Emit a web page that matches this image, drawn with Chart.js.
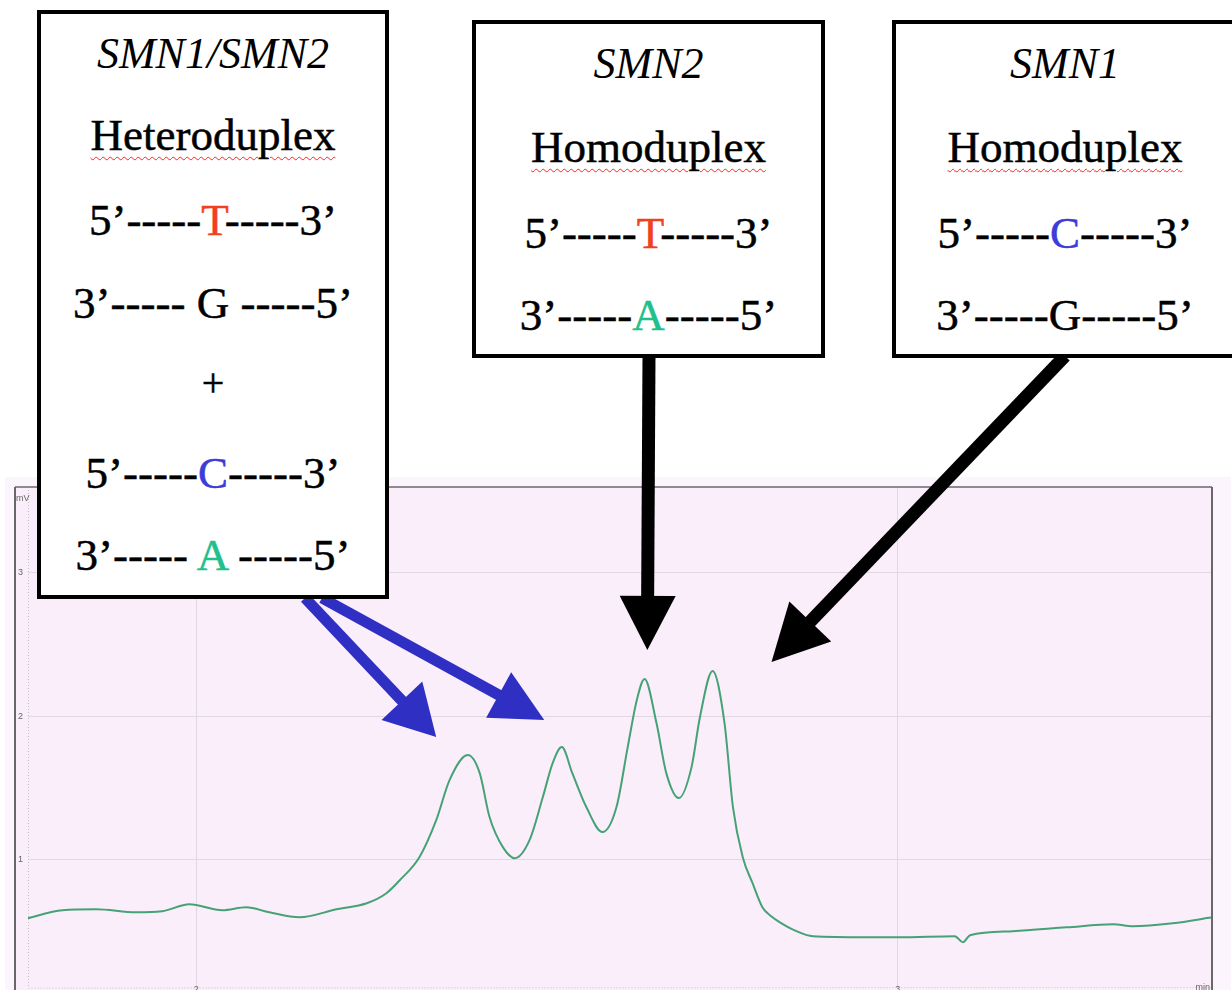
<!DOCTYPE html>
<html>
<head>
<meta charset="utf-8">
<script src="https://cdn.jsdelivr.net/npm/chart.js@4.4.1/dist/chart.umd.min.js"></script>
<style>
  body { margin: 0; background: #fff; }
  #wrap { position: relative; width: 1232px; height: 990px; overflow: hidden; }
  #trace { position: absolute; left: 0; top: 0; }
  .box {
    position: absolute;
    box-sizing: border-box;
    border: 4px solid #000;
    background: #fff;
    font-family: 'Liberation Serif', 'Times New Roman', serif;
    font-size: 45px;
    color: #000;
  }
  .ln {
    position: absolute;
    left: 0; right: 0;
    text-align: center;
    line-height: 50px;
    white-space: pre;
    -webkit-text-stroke: 0.5px;
  }
  .gene { font-style: italic; font-size: 44px; -webkit-text-stroke: 0; }
  .spell {
    text-decoration: underline wavy #f22;
    text-decoration-thickness: 1px;
    text-underline-offset: 6px;
  }
  .T { color: #f0401e; }
  .C { color: #3c3cd8; }
  .A { color: #1ec08c; }
</style>
</head>
<body>
<div id="wrap">
  <canvas id="trace" width="1232" height="990"></canvas>
</div>
<script>
// retention time (min) and detector signal (mV)
const times = [1.759, 1.809, 1.857, 1.914, 1.951, 1.990, 2.037, 2.071, 2.104, 2.147,
  2.200, 2.243, 2.271, 2.290, 2.318, 2.342, 2.361, 2.387, 2.404, 2.418,
  2.437, 2.454, 2.475, 2.494, 2.508, 2.521, 2.536, 2.556, 2.579, 2.599,
  2.615, 2.628, 2.639, 2.656, 2.670, 2.688, 2.706, 2.718, 2.736, 2.753,
  2.765, 2.779, 2.793, 2.807, 2.820, 2.832, 2.853, 2.879, 2.956, 3.003,
  3.081, 3.093, 3.103, 3.164, 3.241, 3.307, 3.335, 3.392, 3.448];
const signal = [0.587, 0.643, 0.650, 0.629, 0.636, 0.685, 0.643, 0.664, 0.629, 0.594,
  0.650, 0.692, 0.762, 0.853, 1.014, 1.273, 1.552, 1.727, 1.601, 1.294,
  1.084, 1.007, 1.133, 1.434, 1.671, 1.783, 1.601, 1.364, 1.189, 1.364,
  1.783, 2.112, 2.259, 1.951, 1.601, 1.427, 1.643, 1.993, 2.315, 1.951,
  1.364, 1.014, 0.832, 0.664, 0.600, 0.559, 0.503, 0.462, 0.455, 0.455,
  0.462, 0.420, 0.469, 0.497, 0.524, 0.545, 0.531, 0.552, 0.594];
const timeTicks = [2, 3];
const mvTicks = [1, 2, 3];

// arrow tips sit just above the peaks, given in (min, mV)
const blueTips = [[2.342, 1.853], [2.496, 1.972]];
const blackTips = [[2.643, 2.462], [2.820, 2.378]];

// duplex boxes: text lines with their baselines (px from page top)
const boxes = [
  {
    left: 37, top: 10, width: 352, height: 589,
    lines: [
      [68, '<span class="gene">SMN1/SMN2</span>'],
      [150, '<span class="spell">Heteroduplex</span>'],
      [235, '5’-----<span class="T">T</span>-----3’'],
      [318, '3’----- G -----5’'],
      [396, '<span style="font-size:40px">+</span>'],
      [488, '5’-----<span class="C">C</span>-----3’'],
      [570, '3’----- <span class="A">A</span> -----5’'],
    ],
  },
  {
    left: 472, top: 20, width: 353, height: 338,
    lines: [
      [78, '<span class="gene">SMN2</span>'],
      [162, '<span class="spell">Homoduplex</span>'],
      [248, '5’-----<span class="T">T</span>-----3’'],
      [330, '3’-----<span class="A">A</span>-----5’'],
    ],
  },
  {
    left: 892, top: 20, width: 346, height: 338,
    lines: [
      [78, '<span class="gene">SMN1</span>'],
      [162, '<span class="spell">Homoduplex</span>'],
      [248, '5’-----<span class="C">C</span>-----3’'],
      [330, '3’-----G-----5’'],
    ],
  },
];

const wrap = document.getElementById('wrap');
for (const b of boxes) {
  const el = document.createElement('div');
  el.className = 'box';
  Object.assign(el.style, {
    left: b.left + 'px', top: b.top + 'px',
    width: b.width + 'px', height: b.height + 'px',
  });
  for (const [base, html] of b.lines) {
    const ln = document.createElement('div');
    ln.className = 'ln';
    // baseline is ~40px below the top of a 50px line
    ln.style.top = (base - b.top - 4 - 40) + 'px';
    ln.innerHTML = html;
    el.appendChild(ln);
  }
  wrap.appendChild(el);
}

function arrow(ctx, x0, y0, x1, y1, shaft, headLen, headW, color) {
  const len = Math.hypot(x1 - x0, y1 - y0);
  const ux = (x1 - x0) / len, uy = (y1 - y0) / len;
  const bx = x1 - ux * headLen, by = y1 - uy * headLen;
  ctx.save();
  ctx.strokeStyle = color;
  ctx.fillStyle = color;
  ctx.lineWidth = shaft;
  ctx.beginPath();
  ctx.moveTo(x0, y0);
  ctx.lineTo(bx + ux * 4, by + uy * 4);
  ctx.stroke();
  ctx.beginPath();
  ctx.moveTo(x1, y1);
  ctx.lineTo(bx - uy * headW / 2, by + ux * headW / 2);
  ctx.lineTo(bx + uy * headW / 2, by - ux * headW / 2);
  ctx.closePath();
  ctx.fill();
  ctx.restore();
}

const recorder = {
  id: 'recorder',
  beforeDraw(chart) {
    const { ctx, chartArea: a } = chart;
    ctx.save();
    ctx.fillStyle = '#fdf5fd';
    ctx.fillRect(5, a.top - 10, a.right + 14, 1000 - a.top);
    ctx.fillStyle = '#fbeefb';
    ctx.fillRect(15, a.top, a.right - 15, 990 - a.top);
    ctx.restore();
  },
  afterDraw(chart) {
    const { ctx, chartArea: a, scales: { x, y } } = chart;
    ctx.save();
    // dotted plot edges
    ctx.strokeStyle = '#c9bfc9';
    ctx.lineWidth = 1;
    ctx.setLineDash([1, 2]);
    ctx.beginPath();
    ctx.moveTo(a.left + 0.5, a.top);
    ctx.lineTo(a.left + 0.5, a.bottom);
    ctx.lineTo(a.right, a.bottom - 0.5);
    ctx.stroke();
    ctx.setLineDash([]);
    // outer frame
    ctx.strokeStyle = '#8f8a8f';
    ctx.lineWidth = 2;
    ctx.beginPath();
    ctx.moveTo(15, a.top);
    ctx.lineTo(a.right, a.top);
    ctx.stroke();
    ctx.strokeStyle = '#6a666a';
    ctx.beginPath();
    ctx.moveTo(15, a.top);
    ctx.lineTo(15, 990);
    ctx.moveTo(a.right, a.top);
    ctx.lineTo(a.right, 990);
    ctx.stroke();
    // axis labels
    ctx.fillStyle = '#666';
    ctx.font = '9px "Liberation Sans"';
    ctx.textBaseline = 'middle';
    ctx.textAlign = 'left';
    ctx.fillText('mV', 16, a.top + 12);
    for (const v of mvTicks) ctx.fillText(String(v), 18, y.getPixelForValue(v));
    ctx.textAlign = 'center';
    ctx.textBaseline = 'top';
    for (const t of timeTicks) ctx.fillText(String(t), x.getPixelForValue(t), a.bottom - 3);
    ctx.textAlign = 'right';
    ctx.fillText('min', a.right - 2, a.bottom - 5);
    ctx.restore();

    const px = ([t, v]) => [x.getPixelForValue(t), y.getPixelForValue(v)];
    const [b1, b2] = blueTips.map(px);
    arrow(ctx, 305, 598, b1[0], b1[1], 11, 50, 56, '#2f2fc4');
    arrow(ctx, 322, 598, b2[0], b2[1], 11, 52, 52, '#2f2fc4');
    const [k1, k2] = blackTips.map(px);
    arrow(ctx, 649, 356, k1[0], k1[1], 13, 54, 56, '#000');
    arrow(ctx, 1065, 356, k2[0], k2[1], 13, 56, 58, '#000');
  },
};

new Chart(document.getElementById('trace'), {
  type: 'line',
  data: {
    datasets: [{
      data: times.map((t, i) => ({ x: t, y: signal[i] })),
      borderColor: '#45a275',
      borderWidth: 2,
      pointRadius: 0,
      cubicInterpolationMode: 'monotone',
      fill: false,
    }],
  },
  options: {
    responsive: false,
    animation: false,
    layout: { padding: { left: 28, top: 487, right: 20, bottom: 2 } },
    plugins: { legend: { display: false }, tooltip: { enabled: false } },
    scales: {
      x: {
        type: 'linear',
        min: 1.76,
        max: 3.448,
        afterBuildTicks: (s) => { s.ticks = timeTicks.map((value) => ({ value })); },
        ticks: { display: false },
        border: { display: false },
        grid: { color: '#e2d8e2', drawTicks: false, lineWidth: 1 },
      },
      y: {
        min: 0.1,
        max: 3.6,
        afterBuildTicks: (s) => { s.ticks = mvTicks.map((value) => ({ value })); },
        ticks: { display: false },
        border: { display: false },
        grid: { color: '#e2d8e2', drawTicks: false, lineWidth: 1 },
      },
    },
  },
  plugins: [recorder],
});
</script>
</body>
</html>
